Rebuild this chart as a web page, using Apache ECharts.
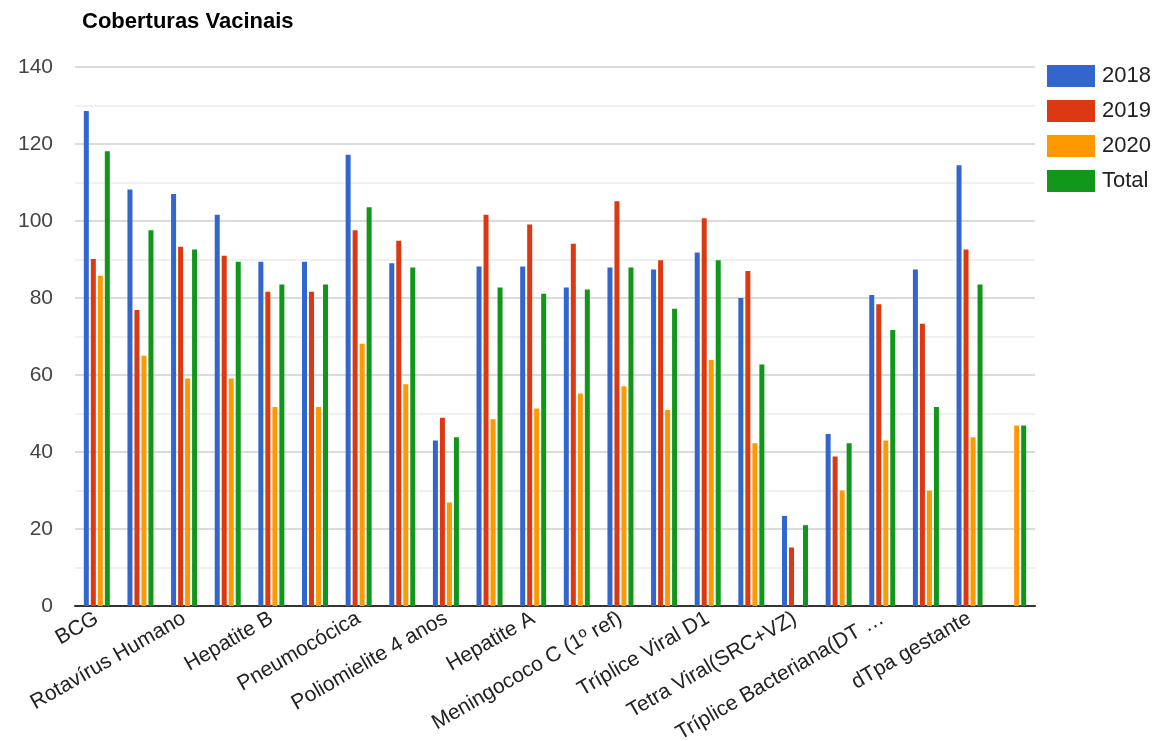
<!DOCTYPE html>
<html>
<head>
<meta charset="utf-8">
<title>Coberturas Vacinais</title>
<script src="https://cdn.jsdelivr.net/npm/echarts@6/dist/echarts.min.js"></script>
<style>
  html, body { margin: 0; padding: 0; background: #fff; }
  #chart { width: 1161px; height: 741px; }
</style>
</head>
<body>
<div id="chart"></div>
<script>
// Vaccines (every other name is shown on the axis)
const categories = [
  'BCG',
  'Hepatite B em crianças até 30 dias',
  'Rotavírus Humano',
  'Meningococo C',
  'Hepatite B',
  'Penta',
  'Pneumocócica',
  'Poliomielite',
  'Poliomielite 4 anos',
  'Febre Amarela',
  'Hepatite A',
  'Pneumocócica(1º ref)',
  'Meningococo C (1º ref)',
  'Poliomielite(1º ref)',
  'Tríplice Viral D1',
  'Tríplice Viral D2',
  'Tetra Viral(SRC+VZ)',
  'DTP REF (4 e 6 anos)',
  'Tríplice Bacteriana(DTP)(1º ref)',
  'Dupla adulto e tríplice acelular gestante',
  'dTpa gestante',
  'DTP'
];

// Coverage (%) per year
const cov2018 = [128.6, 108.2, 107.0, 101.6, 89.4, 89.4, 117.2, 89.0, 43.0, 88.2, 88.2,
                 82.7, 87.9, 87.4, 91.8, 80.0, 23.4, 44.7, 80.8, 87.4, 114.5, null];
const cov2019 = [90.1, 76.9, 93.3, 91.0, 81.6, 81.6, 97.6, 94.9, 48.9, 101.6, 99.1,
                 94.1, 105.1, 89.8, 100.7, 87.0, 15.2, 38.8, 78.4, 73.3, 92.6, null];
const cov2020 = [85.8, 65.0, 59.1, 59.1, 51.7, 51.7, 68.1, 57.6, 26.9, 48.5, 51.3,
                 55.2, 57.1, 50.9, 63.9, 42.3, null, 30.0, 43.0, 30.0, 43.8, 46.9];
const covTotal = [118.1, 97.6, 92.6, 89.4, 83.5, 83.5, 103.6, 87.9, 43.8, 82.7, 81.1,
                  82.2, 87.9, 77.2, 89.8, 62.7, 21.0, 42.3, 71.7, 51.7, 83.5, 46.9];

const seriesNames = ['2018', '2019', '2020', 'Total'];
const yTicks = { min: 0, max: 140, interval: 20 };

const palette = ['#3366cc', '#dc3912', '#ff9900', '#109618'];
const FONT = '"Liberation Sans", Arial, sans-serif';

const chart = echarts.init(document.getElementById('chart'), null, { renderer: 'canvas' });

function bar(name, data) {
  return {
    name: name,
    type: 'bar',
    data: data,
    barWidth: 5,
    barGap: '40%',
    animation: false
  };
}

chart.setOption({
  animation: false,
  color: palette,
  textStyle: { fontFamily: FONT },
  title: {
    text: 'Coberturas Vacinais',
    left: 77,
    top: 6,
    textStyle: { fontFamily: FONT, fontSize: 22, fontWeight: 'bold', color: '#000' }
  },
  legend: {
    orient: 'vertical',
    left: 1042,
    top: 60,
    icon: 'rect',
    itemWidth: 48,
    itemHeight: 22,
    itemGap: 13,
    data: seriesNames,
    textStyle: { fontFamily: FONT, fontSize: 22, color: '#222', padding: [0, 0, 0, 2] }
  },
  grid: {
    left: 75, right: 126, top: 67, bottom: 135,
    containLabel: false,
    outerBoundsMode: 'none'
  },
  xAxis: {
    type: 'category',
    data: categories,
    axisLine: { show: true, lineStyle: { color: '#333', width: 2 } },
    axisTick: { show: false },
    axisLabel: {
      interval: 1,
      rotate: 30,
      margin: 11,
      fontFamily: FONT,
      fontSize: 21,
      color: '#222',
      formatter: function (v) {
        return v.length > 23 ? v.slice(0, 22) + ' …' : v;
      }
    }
  },
  yAxis: {
    type: 'value',
    min: yTicks.min,
    max: yTicks.max,
    interval: yTicks.interval,
    axisLine: { show: false },
    axisTick: { show: false },
    axisLabel: { fontFamily: FONT, fontSize: 21, color: '#444', margin: 22 },
    splitLine: { show: true, lineStyle: { color: '#cfcfcf', width: 1.5 } },
    minorTick: { show: false, splitNumber: 2 },
    minorSplitLine: { show: true, lineStyle: { color: '#ececec', width: 1.5 } }
  },
  series: [
    bar(seriesNames[0], cov2018),
    bar(seriesNames[1], cov2019),
    bar(seriesNames[2], cov2020),
    bar(seriesNames[3], covTotal)
  ]
});
</script>
</body>
</html>
